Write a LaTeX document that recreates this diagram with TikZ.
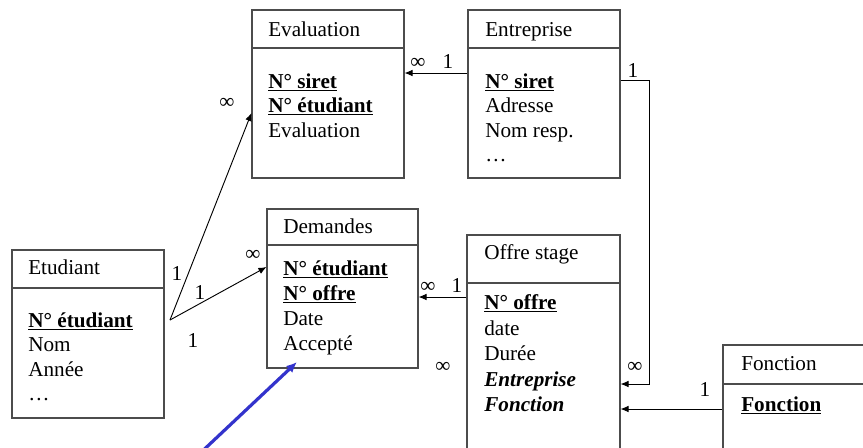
\documentclass[tikz,border=0pt]{standalone}
\usepackage{fontspec}
\setmainfont{Liberation Serif}
\usetikzlibrary{fit,arrows.meta}
\begin{document}
\begin{tikzpicture}[x=0.75pt,y=-0.75pt,
  box/.style={draw=black!70,line width=0.8pt,inner sep=0pt},
  sep/.style={draw=black!70,line width=0.8pt},
  txt/.style={anchor=base west,inner sep=0pt,font=\fontsize{15.9}{18}\selectfont},
  lab/.style={anchor=center,inner sep=0pt,font=\fontsize{15.9}{18}\selectfont},
  conn/.style={draw=black,line width=0.7pt,-{Latex[length=6pt,width=5pt]}},
  blue arrow/.style={draw={rgb,255:red,51;green,51;blue,204},line width=2.4pt,-{Latex[length=8pt,width=7pt]}}]
\useasboundingbox (0,0) rectangle (863,447);
\clip (0,0) rectangle (863,447);
\fill[white] (0,0) rectangle (863,447);

% boxes
\node[box,fit={(252,10) (404,178)}] (eval) {};
\node[box,fit={(468,10) (620,178)}] (ent) {};
\node[box,fit={(12,250) (164,418)}] (etu) {};
\node[box,fit={(267,209) (418,368)}] (dem) {};
\node[box,fit={(467,235) (620,470)}] (off) {};
\node[box,fit={(723,345) (880,470)}] (fon) {};

% header separators
\draw[sep] (252,48) -- (404,48);
\draw[sep] (468,48) -- (620,48);
\draw[sep] (12,288) -- (164,288);
\draw[sep] (267,245) -- (418,245);
\draw[sep] (467,283) -- (620,283);
\draw[sep] (723,384) -- (880,384);

% Evaluation
\node[txt] (evalH) at (268,36) {Evaluation};
\node[txt] (evalA) at (268,88) {\textbf{\underline{N° siret}}};
\node[txt] (evalB) at (268,112.5) {\textbf{\underline{N° étudiant}}};
\node[txt] (evalC) at (268,137) {Evaluation};

% Entreprise
\node[txt] (entH) at (485,36) {Entreprise};
\node[txt] (entA) at (485,88) {\textbf{\underline{N° siret}}};
\node[txt] (entB) at (485,112.5) {Adresse};
\node[txt] (entC) at (485,137) {Nom resp.};
\node[txt] (entD) at (485,161.5) {…};

% Etudiant
\node[txt] (etuH) at (28,274) {Etudiant};
\node[txt] (etuA) at (28,327) {\textbf{\underline{N° étudiant}}};
\node[txt] (etuB) at (28,351.5) {Nom};
\node[txt] (etuC) at (28,376) {Année};
\node[txt] (etuD) at (28,400.5) {…};

% Demandes
\node[txt] (demH) at (283,233) {Demandes};
\node[txt] (demA) at (283,275) {\textbf{\underline{N° étudiant}}};
\node[txt] (demB) at (283,300) {\textbf{\underline{N° offre}}};
\node[txt] (demC) at (283,325) {Date};
\node[txt] (demD) at (283,350) {Accepté};

% Offre stage
\node[txt] (offH) at (484,259) {Offre stage};
\node[txt] (offA) at (484,309) {\textbf{\underline{N° offre}}};
\node[txt] (offB) at (484,335) {date};
\node[txt] (offC) at (484,360) {Durée};
\node[txt] (offD) at (484,386) {\textbf{\textit{Entreprise}}};
\node[txt] (offE) at (484,411) {\textbf{\textit{Fonction}}};

% Fonction
\node[txt] (fonH) at (741,370) {Fonction};
\node[txt] (fonA) at (741,411) {\textbf{\underline{Fonction}}};

% connectors
\draw[conn] (ent.west |- 0,73) -- (eval.east |- 0,73);
\coordinate (c1) at (649,80);
\coordinate (c2) at (649,384);
\draw[conn] (ent.east |- c1) -- (c1) -- (c2) -- (off.east |- c2);
\draw[conn] (fon.west |- 0,409) -- (off.east |- 0,409);
\draw[conn] (off.west |- 0,297) -- (dem.east |- 0,297);
\coordinate (etuP) at (170,320);
\draw[conn] (etuP) -- (eval.west |- 0,113);
\draw[conn] (etuP) -- (dem.west |- 0,267);
\coordinate (bl) at (195,458);
\coordinate (bt) at (297,362);
\draw[blue arrow] (bl) -- (bt);

% labels
\node[lab] (l1) at (418,63) {∞};
\node[lab] (l2) at (448,61) {1};
\node[lab] (l3) at (633,70) {1};
\node[lab] (l4) at (635,367) {∞};
\node[lab] (l5) at (705,389) {1};
\node[lab] (l6) at (428,287) {∞};
\node[lab] (l7) at (457,285) {1};
\node[lab] (l8) at (227,103) {∞};
\node[lab] (l9) at (253,255) {∞};
\node[lab] (l10) at (177,273) {1};
\node[lab] (l11) at (200,292) {1};
\node[lab] (l12) at (193,340) {1};
\node[lab] (l13) at (443,367) {∞};
\end{tikzpicture}
\end{document}
